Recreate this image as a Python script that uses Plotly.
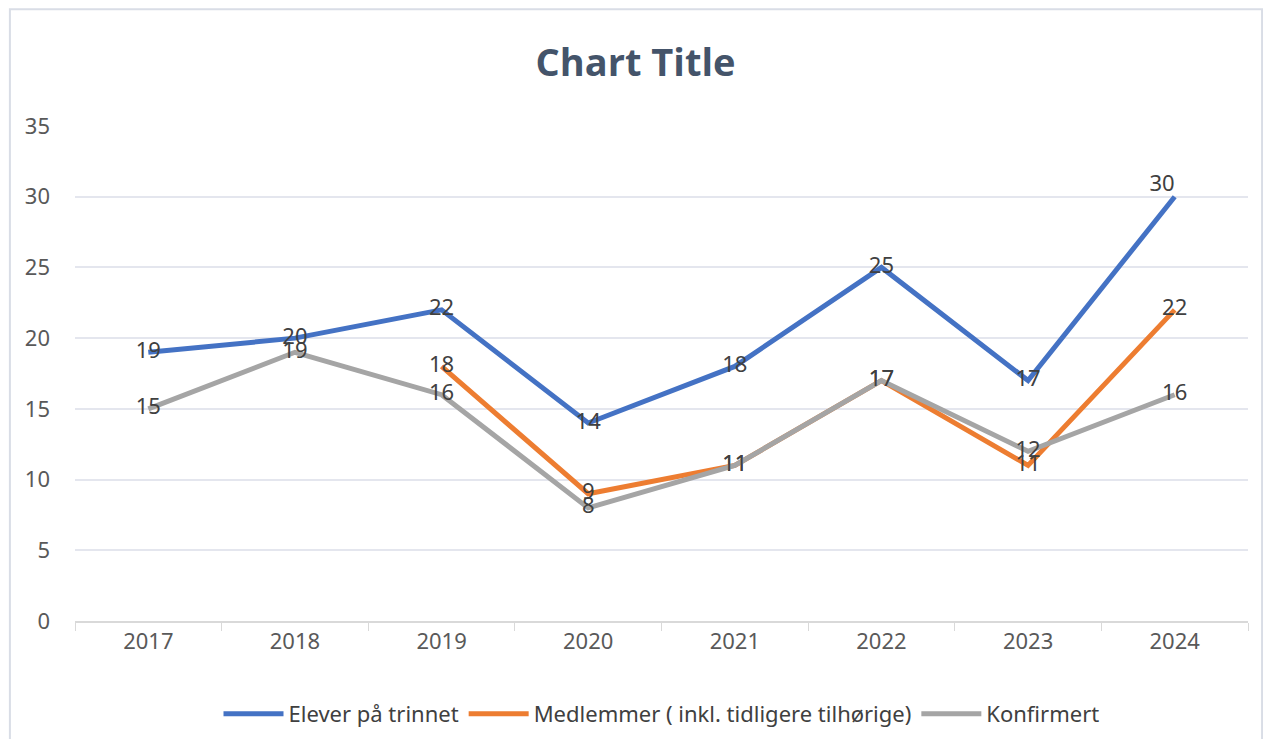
import plotly.graph_objects as go

years = ["2017", "2018", "2019", "2020", "2021", "2022", "2023", "2024"]
elever = [19, 20, 22, 14, 18, 25, 17, 30]
medlemmer = [None, None, 18, 9, 11, 17, 11, 22]
konfirmert = [15, 19, 16, 8, 11, 17, 12, 16]

label_font = dict(family="Noto Sans", size=22, color="#404040")

fig = go.Figure()

# label for the last blue point sits above-left like the original
elever_pos = ["middle center"] * 7 + ["top left"]

fig.add_trace(go.Scatter(x=years, y=elever, mode="lines+text", name="Elever på trinnet",
                         line=dict(color="#4472C4", width=5), text=elever,
                         textposition=elever_pos, textfont=label_font))
fig.add_trace(go.Scatter(x=years, y=medlemmer, mode="lines+text", name="Medlemmer ( inkl. tidligere tilhørige)",
                         line=dict(color="#ED7D31", width=5),
                         text=[v if v is not None else "" for v in medlemmer],
                         textposition="middle center", textfont=label_font))
fig.add_trace(go.Scatter(x=years, y=konfirmert, mode="lines+text", name="Konfirmert",
                         line=dict(color="#A5A5A5", width=5), text=konfirmert,
                         textposition="middle center", textfont=label_font))

fig.update_layout(
    width=1255, height=731,
    margin=dict(l=67, r=15, t=118, b=118, autoexpand=False),
    paper_bgcolor="white", plot_bgcolor="white",
    title=dict(text="<b>Chart Title</b>", x=0.5, xanchor="center", y=0.925, yanchor="middle",
               font=dict(family="Open Sans", size=38, color="#44546A")),
    legend=dict(orientation="h", x=0.5, xanchor="center", y=-0.188, yanchor="middle",
                font=dict(family="Noto Sans", size=22, color="#404040"), itemwidth=60),
    showlegend=True,
    font=dict(family="Noto Sans"),
)

fig.update_xaxes(type="category", range=[-0.5, 7.5], tickson="boundaries", ticks="outside",
                 ticklen=8, tickcolor="#D9D9D9", showline=True, linecolor="#D9D9D9", linewidth=2,
                 showgrid=False, tickfont=dict(size=22, color="#595959"))
fig.update_yaxes(range=[0, 35], dtick=5, showgrid=True, gridcolor="#E4E6EE", gridwidth=2,
                 zeroline=False, showline=False, ticks="", ticklabelstandoff=24,
                 tickfont=dict(size=22, color="#595959"))

fig.add_shape(type="rect", xref="paper", yref="paper", x0=-0.0555, x1=1.012, y0=-0.25, y1=1.236,
              line=dict(color="#D9DDE6", width=2), layer="below")

fig.write_html("out.html")
